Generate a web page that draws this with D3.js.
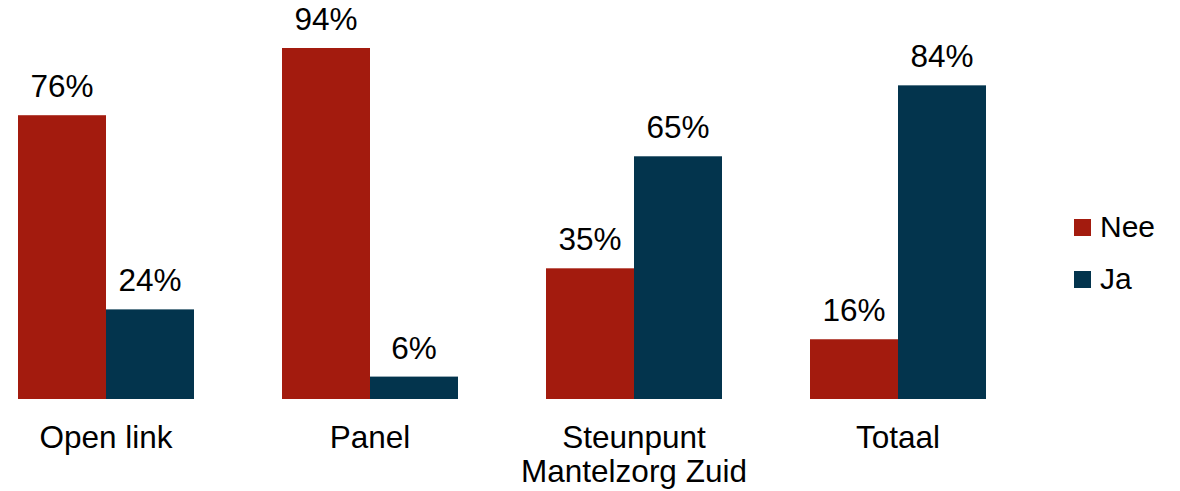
<!DOCTYPE html>
<html><head><meta charset="utf-8">
<script src="https://cdn.jsdelivr.net/npm/d3@7"></script>
<style>body{margin:0;background:#fff}svg{display:block}text{font-family:"Liberation Sans",Arial,sans-serif;fill:#000}</style>
</head><body>
<svg id="c" width="1180" height="491"></svg>
<script>
const categories = [["Open link"], ["Panel"], ["Steunpunt", "Mantelzorg Zuid"], ["Totaal"]];
const seriesNames = ["Nee", "Ja"];
const neeValues = [76, 94, 35, 16];
const jaValues = [24, 6, 65, 84];
const colors = ["#A31B0E", "#03344D"];

const svg = d3.select("#c");
const keys = categories.map(c => c.join(" "));
const x = d3.scaleBand().domain(keys).range([-26, 1030]).paddingInner(1/3).paddingOuter(1/6);
const xs = d3.scaleBand().domain(seriesNames).range([0, x.bandwidth()]);
const y = d3.scaleLinear().domain([0, 100]).range([399, 399 - 373.4]);

const data = keys.map((k, i) => ({k, vals: [neeValues[i], jaValues[i]]}));
const g = svg.selectAll("g.grp").data(data).join("g").attr("transform", d => `translate(${x(d.k)},0)`);
g.selectAll("rect").data(d => d.vals.map((v, j) => ({v, s: seriesNames[j], j}))).join("rect")
  .attr("x", d => xs(d.s)).attr("width", xs.bandwidth())
  .attr("y", d => y(d.v)).attr("height", d => y(0) - y(d.v))
  .attr("fill", d => colors[d.j]);
g.selectAll("text.val").data(d => d.vals.map((v, j) => ({v, s: seriesNames[j]}))).join("text")
  .attr("class", "val").attr("text-anchor", "middle").attr("font-size", 31.5)
  .attr("x", d => xs(d.s) + xs.bandwidth() / 2).attr("y", d => y(d.v) - 18)
  .text(d => d.v + "%");

const xa = svg.append("g");
categories.forEach((lines, i) => {
  const t = xa.append("text").attr("text-anchor", "middle").attr("font-size", 31.5)
    .attr("x", x(keys[i]) + x.bandwidth() / 2).attr("y", 447.5);
  lines.forEach((l, j) => t.append("tspan").attr("x", x(keys[i]) + x.bandwidth() / 2).attr("dy", j ? 34 : 0).text(l));
});

const lg = svg.append("g").attr("transform", "translate(1074,219)");
seriesNames.forEach((s, i) => {
  lg.append("rect").attr("x", 0).attr("y", i * 52).attr("width", 17).attr("height", 17).attr("fill", colors[i]);
  lg.append("text").attr("x", 26).attr("y", i * 52 + 18).attr("font-size", 30).text(s);
});
</script>
</body></html>
